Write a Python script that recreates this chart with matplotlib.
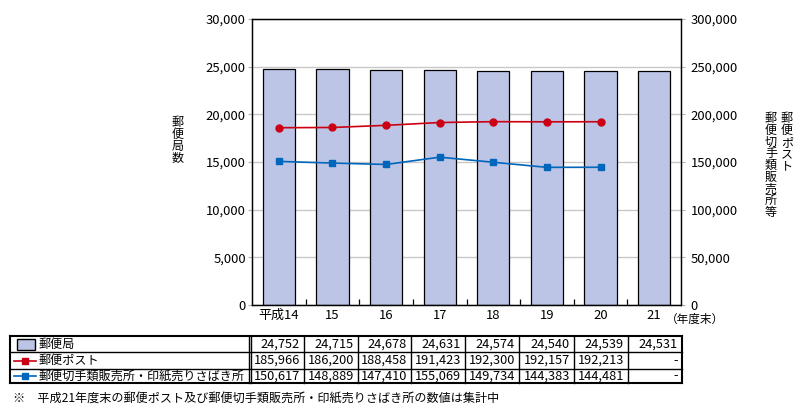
import numpy as np
import matplotlib
matplotlib.use('Agg')
import matplotlib.pyplot as plt

plt.rcParams['font.family'] = ['Noto Sans CJK JP', 'DejaVu Sans']

years = ['平成14', '15', '16', '17', '18', '19', '20', '21']
post_offices = [24752, 24715, 24678, 24631, 24574, 24540, 24539, 24531]
post_boxes = [185966, 186200, 188458, 191423, 192300, 192157, 192213, None]
stamp_shops = [150617, 148889, 147410, 155069, 149734, 144383, 144481, None]

series_names = ['郵便局', '郵便ポスト', '郵便切手類販売所・印紙売りさばき所']
note = '※　平成21年度末の郵便ポスト及び郵便切手類販売所・印紙売りさばき所の数値は集計中'

bar_col = '#bcc5e5'
red = '#cc0014'
blue = '#0066bb'
W, H = 803, 416
fs = 8.7
fs_num = 9.4

fig = plt.figure(figsize=(W / 100, H / 100), dpi=100)

# main chart area in pixels
L, R, T, B = 252, 681, 19, 305
ax = fig.add_axes([L / W, 1 - B / H, (R - L) / W, (B - T) / H])
x = np.arange(len(years))
ax.bar(x, post_offices, width=0.6, color=bar_col, edgecolor='black', linewidth=0.9, zorder=2)
ax.set_xlim(-0.5, len(years) - 0.5)
ax.set_ylim(0, 30000)
ax.set_yticks(np.arange(0, 30001, 5000))
ax.set_yticklabels(['{:,}'.format(v) for v in range(0, 30001, 5000)], fontsize=fs_num)
ax.set_axisbelow(True)
ax.yaxis.grid(True, color='#c8c8c8', linewidth=1.0)
ax.tick_params(axis='y', length=3, color='#b0b0b0', pad=1.5)
ax.set_xticks(x)
ax.set_xticklabels(years, fontsize=fs_num)
ax.tick_params(axis='x', which='major', length=0, pad=3)
ax.set_xticks(np.arange(0.5, len(years) - 1, 1), minor=True)
ax.tick_params(axis='x', which='minor', direction='in', length=4, color='black', width=0.9)
for s in ax.spines.values():
    s.set_linewidth(0.9)

ax2 = ax.twinx()
ax2.set_ylim(0, 300000)
ax2.set_yticks(np.arange(0, 300001, 50000))
ax2.set_yticklabels(['{:,}'.format(v) for v in range(0, 300001, 50000)], fontsize=fs_num)
ax2.tick_params(axis='y', length=3, color='#b0b0b0', pad=4)
for s in ax2.spines.values():
    s.set_linewidth(0.9)

n = len(post_boxes) - 1
ax2.plot(x[:n], post_boxes[:n], color=red, linewidth=1.2, marker='o', markersize=5, zorder=3)
ax2.plot(x[:n], stamp_shops[:n], color=blue, linewidth=1.2, marker='s', markersize=5, zorder=3)

# overlay in pixel coordinates for labels and table
ov = fig.add_axes([0, 0, 1, 1], zorder=5)
ov.set_xlim(0, W)
ov.set_ylim(H, 0)
ov.axis('off')
ov.patch.set_visible(False)


def vtext(xc, ytop, s, pitch=11.7):
    for i, ch in enumerate(s):
        ov.text(xc, ytop + pitch * (i + 0.5), ch, ha='center', va='center', fontsize=fs)


vtext(178, 117, '郵便局数')
vtext(787, 113, '郵便ポスト')
vtext(771, 113, '郵便切手類販売所等')
ov.text(666, 319, '（年度末）', ha='left', va='center', fontsize=8.4)

# table
rows_y = [336, 352, 369, 383]
cols_x = [251, 304, 358, 411, 465, 519, 574, 628, 682]
tl = 10
for i, yy in enumerate(rows_y):
    outer = i in (0, len(rows_y) - 1)
    ov.plot([tl, cols_x[-1]], [yy, yy], color='black', lw=1.5 if outer else 1.0)
for xx in [tl, 249] + cols_x:
    outer = xx in (tl, cols_x[-1])
    ov.plot([xx, xx], [rows_y[0], rows_y[-1]], color='black', lw=1.5 if outer else 1.0)

table_rows = [post_offices, post_boxes, stamp_shops]
for r, vals in enumerate(table_rows):
    yc = (rows_y[r] + rows_y[r + 1]) / 2
    ov.text(39, yc, series_names[r], ha='left', va='center', fontsize=fs)
    for c, v in enumerate(vals):
        txt = '{:,}'.format(v) if v is not None else '-'
        ov.text(cols_x[c + 1] - 4, yc, txt, ha='right', va='center', fontsize=9.2)

# legend keys in the table
y0 = (rows_y[0] + rows_y[1]) / 2
ov.add_patch(plt.Rectangle((17, y0 - 5.5), 18, 11, facecolor=bar_col, edgecolor='black', lw=1.0))
for r, colr in [(1, red), (2, blue)]:
    yc = (rows_y[r] + rows_y[r + 1]) / 2
    ov.plot([14, 36], [yc, yc], color=colr, lw=1.2)
    ov.plot([25], [yc], marker='s', color=colr, markersize=4.5)

ov.text(13, 398, note, ha='left', va='center', fontsize=fs)

fig.savefig('out.png', dpi=100)
